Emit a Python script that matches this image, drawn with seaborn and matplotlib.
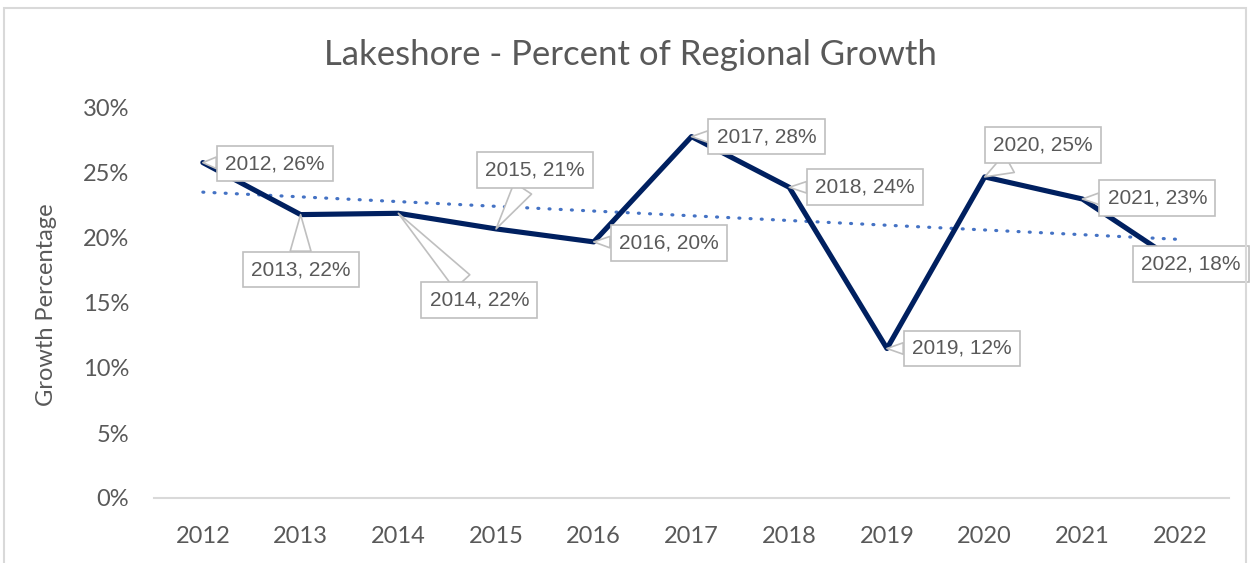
import pandas as pd
import seaborn as sns
import matplotlib.pyplot as plt
from matplotlib.patches import Rectangle

# data
years = ["2012", "2013", "2014", "2015", "2016", "2017", "2018", "2019", "2020", "2021", "2022"]
growth = [0.258, 0.218, 0.219, 0.207, 0.197, 0.278, 0.239, 0.115, 0.247, 0.230, 0.180]
labels = ["2012, 26%", "2013, 22%", "2014, 22%", "2015, 21%", "2016, 20%", "2017, 28%",
          "2018, 24%", "2019, 12%", "2020, 25%", "2021, 23%", "2022, 18%"]
# where each callout box sits relative to its point (pixels)
label_dx = [72, 0, 81, 39, 75, 75, 76, 75, 58, 75, 11]
label_dy = [-1, -55, -87, 59, -1, 0, 0, 0, 32, 1, 0]

df = pd.DataFrame({"idx": range(len(years)), "growth": growth})

sns.set_theme(style="white")
plt.rcParams["font.family"] = ["Lato", "DejaVu Sans"]
grey = "#595959"

fig = plt.figure(figsize=(12.5, 5.63), dpi=100)
ax = fig.add_axes([154 / 1250, 1 - 498 / 563, (1229 - 154) / 1250, (498 - 108) / 563])

sns.lineplot(data=df, x="idx", y="growth", ax=ax, color="#002060", lw=3.7, zorder=2)
sns.regplot(data=df, x="idx", y="growth", ax=ax, scatter=False, ci=None,
            line_kws=dict(color="#4472C4", lw=2.3, ls=(0, (0.3, 3.2)), dash_capstyle="round",
                          zorder=1.5))

for i, lab in enumerate(labels):
    far = abs(label_dy[i]) > 20
    ax.annotate(lab, xy=(i, growth[i]), xytext=(label_dx[i], label_dy[i]), textcoords="offset pixels",
                ha="center", va="center", fontsize=15, color=grey, family="Liberation Sans", zorder=4,
                bbox=dict(boxstyle="square,pad=0.4", fc="white", ec="#BFBFBF", lw=1.2),
                arrowprops=None if i == 10 else dict(
                    arrowstyle="wedge,tail_width=%s" % (1.0 if far else 0.55),
                    fc="white", ec="#BFBFBF", lw=1.2, shrinkA=0, shrinkB=0))

ax.set_xlim(-0.5, 10.5)
ax.set_ylim(0, 0.30)
ax.set_xticks(range(len(years)))
ax.set_xticklabels(years)
ax.set_yticks([0, 0.05, 0.10, 0.15, 0.20, 0.25, 0.30])
ax.set_yticklabels(["0%", "5%", "10%", "15%", "20%", "25%", "30%"])
ax.tick_params(axis="x", length=0, pad=20, labelsize=17, labelcolor=grey)
ax.tick_params(axis="y", length=0, pad=18, labelsize=17, labelcolor=grey)
ax.set_xlabel("")
ax.set_ylabel("")
for s in ["top", "right", "left"]:
    ax.spines[s].set_visible(False)
ax.spines["bottom"].set_color("#D9D9D9")
ax.spines["bottom"].set_linewidth(1.5)

fig.text(0.504, 1 - 55 / 563, "Lakeshore - Percent of Regional Growth", ha="center", va="center",
         fontsize=25, color=grey)
fig.text(47 / 1250, 1 - 305 / 563, "Growth Percentage", rotation=90, ha="center", va="center",
         fontsize=17, color=grey)

fig.patches.append(Rectangle((4 / 1250, -0.05), 1242 / 1250, 1.05 - 8 / 563, transform=fig.transFigure,
                             fill=False, ec="#D9D9D9", lw=1.5))

fig.savefig("out.png", dpi=100)
